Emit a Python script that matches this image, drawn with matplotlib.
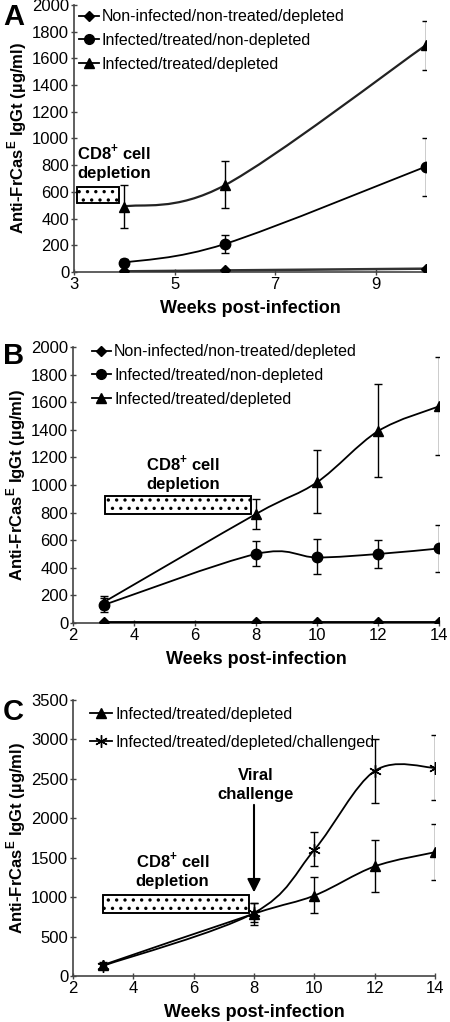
import numpy as np
import matplotlib
matplotlib.use('Agg')
import matplotlib.pyplot as plt
from matplotlib.path import Path
from matplotlib.patches import PathPatch, Rectangle
from matplotlib.lines import Line2D

plt.rcParams['font.family'] = ['Liberation Sans', 'DejaVu Sans']
plt.rcParams['mathtext.fontset'] = 'custom'
plt.rcParams['mathtext.rm'] = 'Liberation Sans'
plt.rcParams['mathtext.bf'] = 'Liberation Sans:bold'
plt.rcParams['hatch.linewidth'] = 1.2

# panel A
a_weeks = [4, 6, 10]
a_non = [5, 12, 25]
a_nondep = [70, 210, 790]
a_nondep_lo = [45, 140, 570]
a_nondep_hi = [95, 280, 1000]
a_dep = [490, 650, 1700]
a_dep_lo = [330, 480, 1510]
a_dep_hi = [650, 830, 1880]

# panel B
b_weeks = [3, 8, 10, 12, 14]
b_non = [5, 5, 5, 5, 5]
b_nondep = [130, 500, 475, 500, 540]
b_nondep_lo = [80, 410, 355, 395, 370]
b_nondep_hi = [180, 595, 610, 605, 710]
b_dep = [150, 790, 1020, 1390, 1570]
b_dep_lo = [100, 680, 800, 1055, 1220]
b_dep_hi = [195, 900, 1255, 1735, 1925]

# panel C
c_weeks = [3, 8, 10, 12, 14]
c_dep = [140, 790, 1020, 1390, 1570]
c_dep_lo = [100, 650, 800, 1060, 1220]
c_dep_hi = [180, 930, 1250, 1730, 1930]
c_chal = [130, 800, 1600, 2600, 2640]
c_chal_lo = [90, 680, 1390, 2200, 2230]
c_chal_hi = [170, 920, 1820, 3000, 3050]

lab_non = 'Non-infected/non-treated/depleted'
lab_nondep = 'Infected/treated/non-depleted'
lab_dep = 'Infected/treated/depleted'
lab_chal = 'Infected/treated/depleted/challenged'

ylab = r'Anti-FrCas$^\mathbf{E}$ IgGt (µg/ml)'
xlab = 'Weeks post-infection'
cd8 = 'CD8$^\\mathbf{+}$ cell\ndepletion'

fig = plt.figure(figsize=(4.5, 10.22), dpi=100)
W, H = 450, 1022


def make_ax(l, r, t, b):
    return fig.add_axes([l / W, 1 - b / H, (r - l) / W, (b - t) / H])


def smooth(ax, x, y, lw=1.3, color='k'):
    # excel style smoothed line, bezier in screen space
    pts = ax.transData.transform(np.column_stack([x, y]))
    n = len(pts)
    verts = [pts[0]]
    codes = [Path.MOVETO]
    for i in range(n - 1):
        p0 = pts[max(i - 1, 0)]
        p1 = pts[i]
        p2 = pts[i + 1]
        p3 = pts[min(i + 2, n - 1)]
        c1 = p1 + (p2 - p0) / 6
        c2 = p2 - (p3 - p1) / 6
        verts += [c1, c2, p2]
        codes += [Path.CURVE4] * 3
    verts = ax.transData.inverted().transform(np.array(verts))
    ax.add_patch(PathPatch(Path(verts, codes), fill=False, lw=lw, color=color, zorder=3))


def series(ax, x, y, lo, hi, marker, ms, lw=1.3, color='k'):
    smooth(ax, x, y, lw, color)
    if lo is not None:
        y_ = np.array(y)
        err = [y_ - np.array(lo), np.array(hi) - y_]
        ax.errorbar(x, y, yerr=err, fmt='none', ecolor='k', elinewidth=1, capsize=3, capthick=1, zorder=4)
    ax.plot(x, y, ls='none', marker=marker, ms=ms, color='k', zorder=5)


def style(ax, xlim, xticks, ylim, yticks):
    ax.set_xlim(*xlim)
    ax.set_ylim(*ylim)
    ax.set_xticks(xticks)
    ax.set_yticks(yticks)
    for s in ['top', 'right']:
        ax.spines[s].set_visible(False)
    for s in ['left', 'bottom']:
        ax.spines[s].set_color('#444444')
        ax.spines[s].set_linewidth(1.2)
    ax.tick_params(direction='inout', length=5, width=1, color='#444444', labelsize=12, pad=1)
    ax.set_xlabel(xlab, fontsize=13, fontweight='bold', labelpad=6)
    ax.set_ylabel(ylab, fontsize=12, fontweight='bold')


def leg(ax, items, y0=1.0, x0=0.0):
    handles = [Line2D([0], [0], color='k', lw=1.3, marker=m, ms=ms) for m, ms, _ in items]
    ax.legend(handles, [t for _, _, t in items], loc='upper left', bbox_to_anchor=(x0, y0),
              frameon=False, fontsize=11.5, handlelength=1.2, handletextpad=0.2,
              labelspacing=0.55, borderaxespad=0.2)


def depl_box(ax, x0, x1, y0, y1):
    ax.add_patch(Rectangle((x0, y0), x1 - x0, y1 - y0, facecolor='white', edgecolor='k',
                           hatch='..', lw=1.2, zorder=2))
    ax.add_patch(Rectangle((x0, y0), x1 - x0, y1 - y0, fill=False, edgecolor='k', lw=1.2, zorder=2))


# ---- A
axA = make_ax(74, 426, 5, 272)
style(axA, (3, 10), [3, 5, 7, 9], (0, 2000), range(0, 2001, 200))
series(axA, a_weeks, a_non, None, None, 'D', 5.5, lw=1.8, color='#333333')
series(axA, a_weeks, a_nondep, a_nondep_lo, a_nondep_hi, 'o', 7.5)
series(axA, a_weeks, a_dep, a_dep_lo, a_dep_hi, '^', 7.5, lw=1.6, color='#222222')
depl_box(axA, 3.05, 3.9, 515, 640)
axA.text(3.06, 830, cd8, fontsize=12, fontweight='bold', ha='left', va='center', linespacing=1.35)
leg(axA, [('D', 5, lab_non), ('o', 7, lab_nondep), ('^', 7, lab_dep)], y0=1.02, x0=-0.012)
axA.yaxis.set_label_coords(-0.128, 0.5)
fig.text(3 / W, 1 - 17 / H, 'A', fontsize=21, fontweight='bold', va='center')

# ---- B
axB = make_ax(73, 439, 347, 623)
style(axB, (2, 14), range(2, 15, 2), (0, 2000), range(0, 2001, 200))
series(axB, b_weeks, b_non, None, None, 'D', 5.5, lw=1.8)
series(axB, b_weeks, b_nondep, b_nondep_lo, b_nondep_hi, 'o', 7.5)
series(axB, b_weeks, b_dep, b_dep_lo, b_dep_hi, '^', 7.5)
depl_box(axB, 3.05, 7.84, 790, 920)
axB.text(5.6, 1090, cd8, fontsize=12, fontweight='bold', ha='center', va='center', linespacing=1.35)
leg(axB, [('D', 5, lab_non), ('o', 7, lab_nondep), ('^', 7, lab_dep)], y0=1.045, x0=0.025)
axB.yaxis.set_label_coords(-0.123, 0.5)
fig.text(3 / W, 1 - 356 / H, 'B', fontsize=21, fontweight='bold', va='center')

# ---- C
axC = make_ax(73, 435, 700, 976)
style(axC, (2, 14), range(2, 15, 2), (0, 3500), range(0, 3501, 500))
series(axC, c_weeks, c_dep, c_dep_lo, c_dep_hi, '^', 7.5)
series(axC, c_weeks, c_chal, c_chal_lo, c_chal_hi, (6, 2, 0), 9)
depl_box(axC, 3.0, 7.83, 803, 1027)
axC.text(5.3, 1350, cd8, fontsize=12, fontweight='bold', ha='center', va='center', linespacing=1.35)
axC.text(8.05, 2420, 'Viral\nchallenge', fontsize=12, fontweight='bold', ha='center', va='center', linespacing=1.35)
axC.annotate('', xy=(8, 1060), xytext=(8, 2170),
             arrowprops=dict(arrowstyle='-|>', lw=1.5, color='k', mutation_scale=20, shrinkA=0, shrinkB=0))
hC = [Line2D([0], [0], color='k', lw=1.3, marker='^', ms=7),
      Line2D([0], [0], color='k', lw=1.3, marker=(6, 2, 0), ms=9)]
axC.legend(hC, [lab_dep, lab_chal], loc='upper left', bbox_to_anchor=(0.02, 1.01), frameon=False,
           fontsize=11.5, handlelength=1.4, handletextpad=0.2, labelspacing=0.8, borderaxespad=0.2)
axC.yaxis.set_label_coords(-0.124, 0.5)
fig.text(3 / W, 1 - 712 / H, 'C', fontsize=21, fontweight='bold', va='center')

fig.savefig('out.png', dpi=100)
